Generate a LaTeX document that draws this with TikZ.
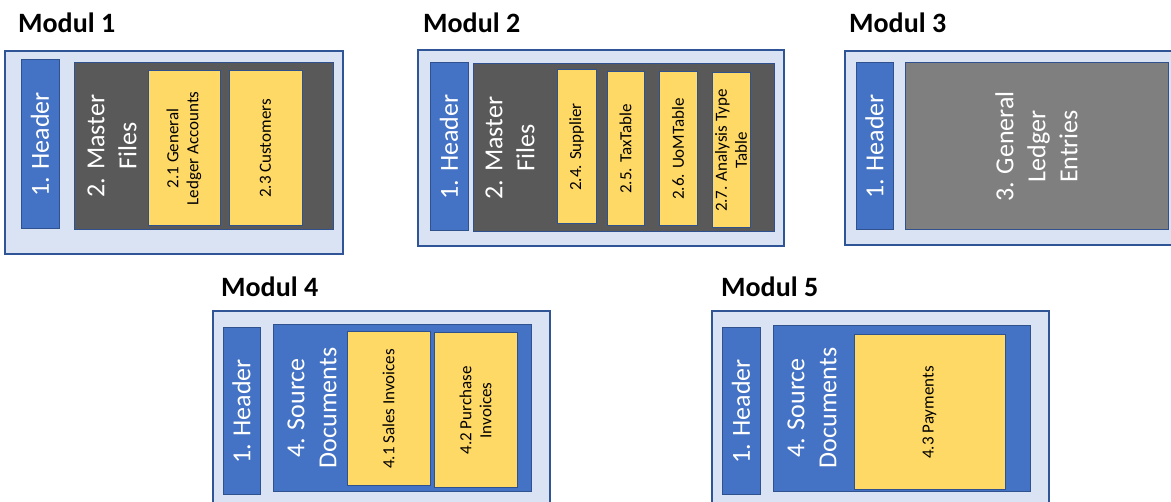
\documentclass[tikz,border=0pt]{standalone}
\usepackage{fontspec}
\setmainfont{Carlito}
\usepackage{tikz}
\usetikzlibrary{positioning,fit}
\definecolor{modfill}{HTML}{DAE3F3}
\definecolor{modline}{HTML}{2F5597}
\definecolor{hdr}{HTML}{4472C4}
\definecolor{partline}{HTML}{2F528F}
\definecolor{mfiles}{HTML}{595959}
\definecolor{gle}{HTML}{7F7F7F}
\definecolor{tbl}{HTML}{FFD966}
\tikzset{
  modbox/.style={draw=modline, fill=modfill, line width=1.5pt, inner sep=0pt},
  part/.style={draw=partline, fill=#1, line width=1pt, inner sep=0pt},
  part/.default=hdr,
  vtxt/.style={rotate=90, align=center, text=white, inner sep=0pt,
    font=\fontsize{26}{32}\selectfont},
  ttxt/.style={rotate=90, align=center, text=black, inner sep=0pt,
    font=\fontsize{17}{20}\selectfont},
  modtitle/.style={anchor=base west, inner sep=0pt,
    font=\bfseries\fontsize{28}{32}\selectfont},
}

\begin{document}
\begin{tikzpicture}[x=1pt,y=-1pt]
  \useasboundingbox (0,0) rectangle (1171,502);
  \clip (0,0) rectangle (1171,502);

  % Modul 1
  \node[modtitle] (t1) at (18,33) {Modul 1};
  \node[modbox, fit={(5,51) (343,254)}] (m1) {};
  \node[part, fit={(21,60) (59,229)}] (m1h) {};
  \node[part=mfiles, fit={(74,63) (333,230)}] (m1f) {};
  \node[part=tbl, fit={(148,71) (220,226)}] (m1a) {};
  \node[part=tbl, fit={(229,71) (302,226)}] (m1b) {};
  \node[vtxt] at (m1h.center) {1. Header};
  \node[vtxt] at (112,146) {2. Master\\Files};
  \node[ttxt] at (m1a.center) {2.1 General\\Ledger Accounts};
  \node[ttxt] at (m1b.center) {2.3 Customers};

  % Modul 2
  \node[modtitle] (t2) at (423,33) {Modul 2};
  \node[modbox, fit={(418,50) (784,246)}] (m2) {};
  \node[part, fit={(430,63) (468,231)}] (m2h) {};
  \node[part=mfiles, fit={(473,64) (774,232)}] (m2f) {};
  \node[part=tbl, fit={(557,70) (596,224)}] (m2a) {};
  \node[part=tbl, fit={(607,72) (644,226)}] (m2b) {};
  \node[part=tbl, fit={(659,72) (697,226)}] (m2c) {};
  \node[part=tbl, fit={(712,73) (750,228)}] (m2d) {};
  \node[vtxt] at (m2h.center) {1. Header};
  \node[vtxt] at (510,148) {2. Master\\Files};
  \node[ttxt] at (m2a.center) {2.4. Supplier};
  \node[ttxt] at (m2b.center) {2.5. TaxTable};
  \node[ttxt] at (m2c.center) {2.6. UoMTable};
  \node[ttxt] at (m2d.center) {2.7. Analysis Type\\Table};

  % Modul 3
  \node[modtitle] (t3) at (849,33) {Modul 3};
  \node[modbox, fit={(845,51) (1180,245)}] (m3) {};
  \node[part, fit={(856,63) (893,230)}] (m3h) {};
  \node[part=gle, fit={(905,63) (1168,230)}] (m3g) {};
  \node[vtxt] at (m3h.center) {1. Header};
  \node[vtxt] at (m3g.center) {3. General\\Ledger\\Entries};

  % Modul 4
  \node[modtitle] (t4) at (221,297) {Modul 4};
  \node[modbox, fit={(213,311) (550,515)}] (m4) {};
  \node[part, fit={(223,328) (260,495)}] (m4h) {};
  \node[part, fit={(273,325) (531,492)}] (m4s) {};
  \node[part=tbl, fit={(347,332) (430,486)}] (m4a) {};
  \node[part=tbl, fit={(434,333) (517,488)}] (m4b) {};
  \node[vtxt] at (m4h.center) {1. Header};
  \node[vtxt] at (312,408) {4. Source\\Documents};
  \node[ttxt] at (m4a.center) {4.1 Sales Invoices};
  \node[ttxt] at (m4b.center) {4.2 Purchase\\Invoices};

  % Modul 5
  \node[modtitle] (t5) at (721,297) {Modul 5};
  \node[modbox, fit={(712,311) (1049,515)}] (m5) {};
  \node[part, fit={(722,328) (760,495)}] (m5h) {};
  \node[part, fit={(773,326) (1030,492)}] (m5s) {};
  \node[part=tbl, fit={(854,335) (1005,490)}] (m5a) {};
  \node[vtxt] at (m5h.center) {1. Header};
  \node[vtxt] at (812,408) {4. Source\\Documents};
  \node[ttxt] at (m5a.center) {4.3 Payments};
\end{tikzpicture}
\end{document}
